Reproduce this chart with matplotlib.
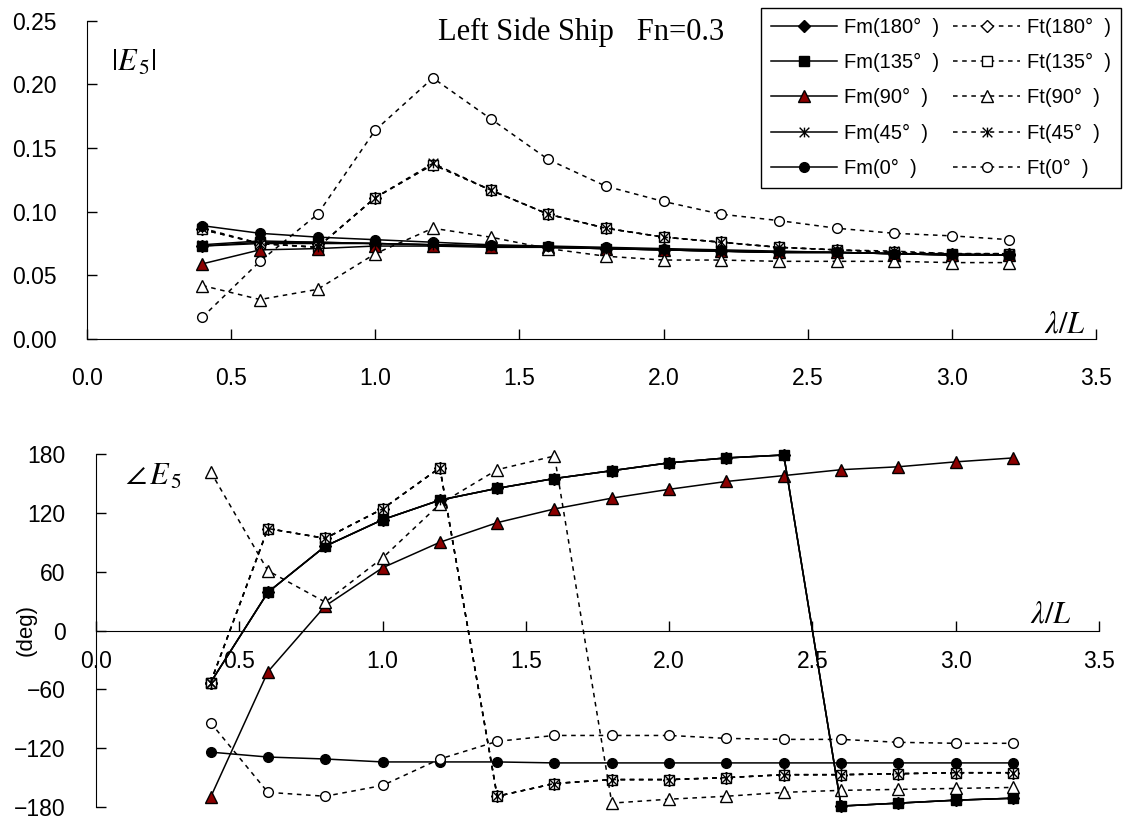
import matplotlib
matplotlib.use("Agg")
import matplotlib.pyplot as plt
from matplotlib.path import Path

plt.rcParams['font.family'] = ['Liberation Sans', 'DejaVu Sans']
plt.rcParams['mathtext.fontset'] = 'stix'

lam = [0.4, 0.6, 0.8, 1.0, 1.2, 1.4, 1.6, 1.8, 2.0, 2.2, 2.4, 2.6, 2.8, 3.0, 3.2]

# |E5| amplitude
fm_amp_180 = [0.073, 0.075, 0.075, 0.075, 0.074, 0.073, 0.072, 0.071, 0.070, 0.069, 0.068, 0.068, 0.067, 0.066, 0.066]
fm_amp_135 = [0.073, 0.076, 0.076, 0.075, 0.074, 0.073, 0.072, 0.071, 0.070, 0.069, 0.068, 0.068, 0.067, 0.066, 0.066]
fm_amp_90 = [0.059, 0.070, 0.071, 0.073, 0.073, 0.072, 0.072, 0.071, 0.070, 0.069, 0.068, 0.068, 0.067, 0.066, 0.066]
fm_amp_45 = [0.074, 0.077, 0.076, 0.075, 0.074, 0.073, 0.072, 0.071, 0.070, 0.069, 0.068, 0.068, 0.067, 0.066, 0.066]
fm_amp_0 = [0.089, 0.083, 0.080, 0.078, 0.076, 0.074, 0.073, 0.072, 0.071, 0.070, 0.069, 0.068, 0.067, 0.067, 0.066]
ft_amp_180 = [0.086, 0.075, 0.072, 0.111, 0.137, 0.117, 0.098, 0.087, 0.080, 0.076, 0.072, 0.070, 0.068, 0.067, 0.067]
ft_amp_135 = [0.086, 0.075, 0.072, 0.111, 0.137, 0.117, 0.098, 0.087, 0.080, 0.076, 0.072, 0.070, 0.068, 0.067, 0.067]
ft_amp_90 = [0.042, 0.031, 0.039, 0.067, 0.087, 0.080, 0.071, 0.065, 0.062, 0.062, 0.061, 0.061, 0.061, 0.060, 0.060]
ft_amp_45 = [0.087, 0.075, 0.072, 0.111, 0.138, 0.117, 0.098, 0.087, 0.080, 0.076, 0.072, 0.070, 0.069, 0.067, 0.067]
ft_amp_0 = [0.017, 0.061, 0.098, 0.164, 0.205, 0.173, 0.141, 0.120, 0.108, 0.098, 0.093, 0.087, 0.083, 0.081, 0.078]

# phase of E5 (deg)
fm_ph_180 = [-53, 39, 86, 113, 133, 145, 155, 163, 171, 176, 179, -179, -176, -173, -171]
fm_ph_135 = [-53, 39, 86, 113, 133, 145, 155, 163, 171, 176, 179, -179, -176, -173, -171]
fm_ph_90 = [-170, -42, 25, 64, 90, 110, 124, 135, 144, 152, 158, 164, 167, 172, 176]
fm_ph_45 = [-53, 39, 86, 113, 133, 145, 155, 163, 171, 176, 179, -179, -176, -173, -171]
fm_ph_0 = [-124, -129, -131, -134, -134, -134, -135, -135, -135, -135, -135, -135, -135, -135, -135]
ft_ph_180 = [-53, 104, 94, 124, 166, -169, -156, -152, -152, -150, -147, -147, -146, -145, -145]
ft_ph_135 = [-53, 104, 94, 124, 166, -169, -156, -152, -152, -150, -147, -147, -146, -145, -145]
ft_ph_90 = [162, 61, 29, 74, 129, 164, 178, -176, -172, -169, -165, -163, -162, -161, -160]
ft_ph_45 = [-53, 104, 94, 124, 166, -169, -156, -152, -152, -150, -147, -147, -146, -145, -145]
ft_ph_0 = [-94, -165, -169, -158, -131, -113, -107, -107, -107, -110, -111, -111, -114, -115, -115]

labels = ['180', '135', '90', '45', '0']
dark_red = '#8b0000'

# excel style asterisk: X plus vertical bar
asterisk = Path([(-1, -1), (1, 1), (-1, 1), (1, -1), (0, -1), (0, 1)],
                [Path.MOVETO, Path.LINETO] * 3)

fm_style = {
    '180': dict(marker='D', mfc='black', ms=6),
    '135': dict(marker='s', mfc='black', ms=6.5),
    '90': dict(marker='^', mfc=dark_red, ms=8),
    '45': dict(marker=asterisk, mfc='none', ms=7),
    '0': dict(marker='o', mfc='black', ms=7),
}
ft_style = {
    '180': dict(marker='D', mfc='white', ms=6),
    '135': dict(marker='s', mfc='white', ms=6.5),
    '90': dict(marker='^', mfc='white', ms=8),
    '45': dict(marker=asterisk, mfc='none', ms=7),
    '0': dict(marker='o', mfc='white', ms=7),
}


def draw(ax, fm, ft):
    fm_lines, ft_lines = [], []
    for key in labels:
        l1, = ax.plot(lam, fm[key], color='black', lw=1.1, mec='black', mew=1.0,
                      clip_on=False, label='Fm(%s°  )' % key, **fm_style[key])
        l2, = ax.plot(lam, ft[key], color='black', lw=1.1, ls=(0, (3, 3)), mec='black',
                      mew=1.0, clip_on=False, label='Ft(%s°  )' % key, **ft_style[key])
        fm_lines.append(l1)
        ft_lines.append(l2)
    return fm_lines + ft_lines


fig = plt.figure(figsize=(11.25, 8.21), dpi=100)

# top: amplitude
ax1 = fig.add_axes([0.0773, 0.5871, 0.8969, 0.3877])
handles = draw(ax1,
               {'180': fm_amp_180, '135': fm_amp_135, '90': fm_amp_90, '45': fm_amp_45, '0': fm_amp_0},
               {'180': ft_amp_180, '135': ft_amp_135, '90': ft_amp_90, '45': ft_amp_45, '0': ft_amp_0})
ax1.set_xlim(0, 3.5)
ax1.set_ylim(0, 0.25)
ax1.set_xticks([0, 0.5, 1.0, 1.5, 2.0, 2.5, 3.0, 3.5])
ax1.set_xticklabels(['%.1f' % v for v in ax1.get_xticks()])
ax1.set_yticks([0, 0.05, 0.10, 0.15, 0.20, 0.25])
ax1.set_yticklabels(['%.2f' % v for v in ax1.get_yticks()])
ax1.spines['top'].set_visible(False)
ax1.spines['right'].set_visible(False)
ax1.tick_params(axis='both', direction='in', length=7, width=1, labelsize=16.5)
ax1.tick_params(axis='x', pad=20)
ax1.tick_params(axis='y', pad=22)
ax1.text(0.046, 0.868, r'$|E_{\,5}|$', transform=ax1.transAxes, fontsize=22, ha='center', va='center')
ax1.text(0.969, 0.045, r'$\lambda/L$', transform=ax1.transAxes, fontsize=22, ha='center', va='center')

# bottom: phase
ax2 = fig.add_axes([0.0853, 0.0170, 0.8916, 0.4300])
draw(ax2,
     {'180': fm_ph_180, '135': fm_ph_135, '90': fm_ph_90, '45': fm_ph_45, '0': fm_ph_0},
     {'180': ft_ph_180, '135': ft_ph_135, '90': ft_ph_90, '45': ft_ph_45, '0': ft_ph_0})
ax2.set_xlim(0, 3.5)
ax2.set_ylim(-180, 180)
ax2.set_xticks([0, 0.5, 1.0, 1.5, 2.0, 2.5, 3.0, 3.5])
ax2.set_xticklabels(['%.1f' % v for v in ax2.get_xticks()])
ax2.set_yticks([-180, -120, -60, 0, 60, 120, 180])
ax2.spines['top'].set_visible(False)
ax2.spines['right'].set_visible(False)
ax2.spines['bottom'].set_position(('data', 0))
ax2.tick_params(axis='both', direction='in', length=7, width=1, labelsize=16.5)
ax2.tick_params(axis='x', pad=14)
ax2.tick_params(axis='y', pad=22)
ax2.text(0.057, 0.935, r'$\angle\,E_{\,5}$', transform=ax2.transAxes, fontsize=22, va='center', ha='center')
ax2.text(0.952, 0.545, r'$\lambda/L$', transform=ax2.transAxes, fontsize=22, ha='center', va='center')
fig.text(0.023, 0.233, '(deg)', rotation=90, fontsize=16, ha='center', va='center')

fig.text(0.517, 0.961, 'Left Side Ship   Fn=0.3', family='Liberation Serif', fontsize=22,
         ha='center', va='center')

leg = fig.legend(handles=handles, ncol=2, loc='upper right',
                 bbox_to_anchor=(1121 / 1125, 1 - 8 / 821), bbox_transform=fig.transFigure,
                 borderaxespad=0, fontsize=14.5, handlelength=3.3, handletextpad=0.35,
                 columnspacing=0.7, labelspacing=0.8, borderpad=0.5, fancybox=False,
                 framealpha=1, edgecolor='black')
leg.get_frame().set_linewidth(1.0)

plt.savefig('out.png')
